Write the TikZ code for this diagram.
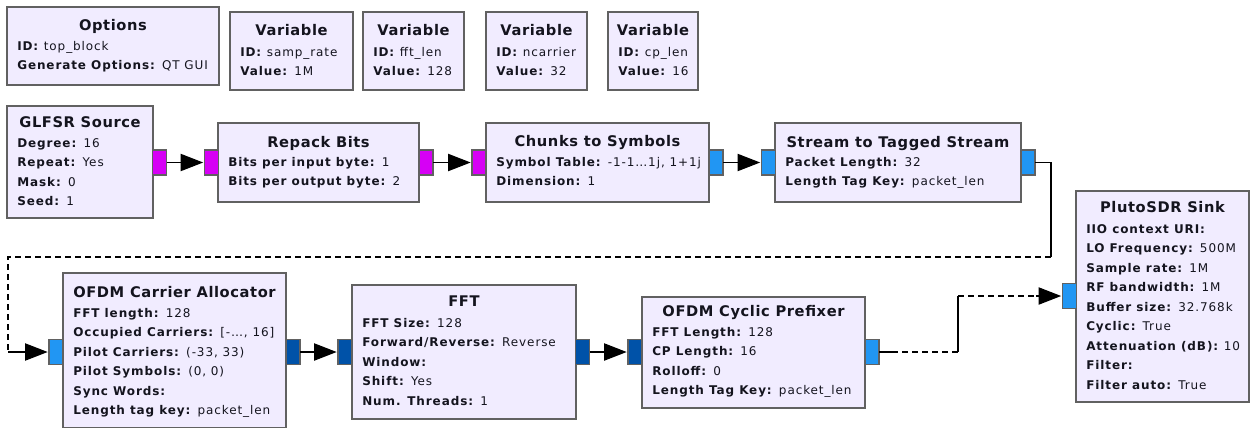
\documentclass[tikz,border=0pt]{standalone}
\usepackage{fontspec}
\setmainfont{DejaVu Sans}
\newfontfamily\ttlfont[LetterSpace=4]{DejaVu Sans}
\newfontfamily\prmfont[LetterSpace=7.5]{DejaVu Sans}
\usetikzlibrary{arrows.meta,calc}

\definecolor{blockfill}{RGB}{241,236,255}
\definecolor{blockedge}{RGB}{97,97,97}
\definecolor{byteport}{RGB}{214,0,245}
\definecolor{cplxport}{RGB}{33,150,243}
\definecolor{vecport}{RGB}{0,82,168}
\definecolor{ink}{RGB}{20,20,30}

% block frame with centred title
\newcommand\grblock[7]{%
  \node[blk, minimum width={(#4-#2)*0.75pt}, minimum height={(#5-#3)*0.75pt}] (#1) at (#2,#3) {};
  \node[ttl] (#1-title) at ({(#2+#4)/2},{#6+5.3}) {#7};
}
% parameter lines, left aligned, one per row
\newcommand\grparams[4]{%
  \foreach \k/\v [count=\i from 0] in {#4} {
    \node[prm] (#1-p\i) at ({#2+10},{#3+4.2+19.5*\i}) {\textbf{\k:} \v};
  }
}

\begin{document}
\begin{tikzpicture}[x=0.75pt,y=-0.75pt,
  blk/.style={draw=blockedge, fill=blockfill, line width=1.1pt, rectangle,
    inner sep=0pt, outer sep=0pt, anchor=north west},
  ttl/.style={font=\ttlfont\bfseries\fontsize{11}{13}\selectfont, text=ink,
    anchor=base, inner sep=0pt},
  prm/.style={font=\prmfont\fontsize{9}{11}\selectfont, text=ink,
    anchor=base west, inner sep=0pt},
  port/.style={draw=blockedge, line width=0.9pt, rectangle, minimum width=10.5pt,
    minimum height=18.75pt, inner sep=0pt, outer sep=0pt},
  wire/.style={draw=black, line width=0.9pt},
  broken/.style={wire, dash pattern=on 4.5pt off 3pt},
  feed/.style={wire, -{Triangle[length=17pt,width=13pt]}, shorten >=1pt}]
\useasboundingbox (0,0) rectangle (1253,429);

% --- variables and options ---
\grblock{opts}{7}{7}{219}{85}{25}{Options}
\grparams{opts}{7}{46}{ID/top\_block, Generate Options/QT GUI}
\grblock{vrate}{230}{12}{353}{90}{30}{Variable}
\grparams{vrate}{230}{52}{ID/samp\_rate, Value/1M}
\grblock{vfft}{363}{12}{464}{90}{30}{Variable}
\grparams{vfft}{363}{52}{ID/fft\_len, Value/128}
\grblock{vncar}{486}{12}{587}{90}{30}{Variable}
\grparams{vncar}{486}{52}{ID/ncarrier, Value/32}
\grblock{vcp}{608}{12}{698}{90}{30}{Variable}
\grparams{vcp}{608}{52}{ID/cp\_len, Value/16}

% --- upper chain ---
\grblock{glfsr}{7}{106}{153}{218}{122}{GLFSR Source}
\grparams{glfsr}{7}{143}{Degree/16, Repeat/Yes, Mask/0, Seed/1}
\grblock{repack}{218}{123}{419}{202}{142}{Repack Bits}
\grparams{repack}{218}{162}{Bits per input byte/1, Bits per output byte/2}
\grblock{chunks}{486}{123}{709}{202}{141}{Chunks to Symbols}
\grparams{chunks}{486}{162}{Symbol Table/{-1-1…1j, 1+1j}, Dimension/1}
\grblock{s2ts}{775}{123}{1021}{202}{142}{Stream to Tagged Stream}
\grparams{s2ts}{775}{162}{Packet Length/32, Length Tag Key/packet\_len}

% --- lower chain ---
\grblock{alloc}{63}{273}{286}{427.5}{292}{OFDM Carrier Allocator}
\grparams{alloc}{63}{313}{FFT length/128, Occupied Carriers/{[-…, 16]},
  Pilot Carriers/{(-33, 33)}, Pilot Symbols/{(0, 0)}, Sync Words/,
  Length tag key/packet\_len}
\grblock{fft}{352}{285}{576}{419}{301}{FFT}
\grparams{fft}{352}{323}{FFT Size/128, {Forward/Reverse}/Reverse, Window/,
  Shift/Yes, Num. Threads/1}
\grblock{cpre}{642}{297}{865}{408}{311}{OFDM Cyclic Prefixer}
\grparams{cpre}{642}{332}{FFT Length/128, CP Length/16, Rolloff/0,
  Length Tag Key/packet\_len}
\grblock{pluto}{1076}{191}{1249}{402}{207}{PlutoSDR Sink}
\grparams{pluto}{1076}{229}{IIO context URI/, LO Frequency/500M,
  Sample rate/1M, RF bandwidth/1M, Buffer size/32.768k, Cyclic/True,
  Attenuation (dB)/10, Filter/, Filter auto/True}

% --- ports ---
\node[port, fill=byteport] (glfsr-out)  at (159.5,162.5) {};
\node[port, fill=byteport] (repack-in)  at (211.5,162.5) {};
\node[port, fill=byteport] (repack-out) at (426,162.5) {};
\node[port, fill=byteport] (chunks-in)  at (479,162.5) {};
\node[port, fill=cplxport] (chunks-out) at (716,162.5) {};
\node[port, fill=cplxport] (s2ts-in)    at (768.5,162.5) {};
\node[port, fill=cplxport] (s2ts-out)   at (1028,162.5) {};
\node[port, fill=cplxport] (alloc-in)   at (56,352) {};
\node[port, fill=vecport]  (alloc-out)  at (293,352) {};
\node[port, fill=vecport]  (fft-in)     at (345,352) {};
\node[port, fill=vecport]  (fft-out)    at (582.5,352) {};
\node[port, fill=vecport]  (cpre-in)    at (635,352) {};
\node[port, fill=cplxport] (cpre-out)   at (872,352) {};
\node[port, fill=cplxport] (pluto-in)   at (1069.5,296) {};

% --- connections ---
\draw[feed] (glfsr-out.east) -- (repack-in.west);
\draw[feed] (repack-out.east) -- (chunks-in.west);
\draw[feed] (chunks-out.east) -- (s2ts-in.west);

\coordinate (r1) at (1051,162.5);
\coordinate (r2) at (1051,257);
\coordinate (r3) at (8,257);
\coordinate (r4) at (8,352);
\draw[wire] (s2ts-out.east) -- (r1) -- (r2);
\draw[broken] (r2) -- (r3) -- (r4);
\draw[feed] (r4) -- (alloc-in.west);

\draw[feed] (alloc-out.east) -- (fft-in.west);
\draw[feed] (fft-out.east) -- (cpre-in.west);

\coordinate (q1) at (892,352);
\coordinate (q2) at (958,352);
\coordinate (q3) at (958,296);
\coordinate (q4) at (1036,296);
\draw[wire] (cpre-out.east) -- (q1);
\draw[broken] (q1) -- (q2);
\draw[wire] (q2) -- (q3);
\draw[broken] (q3) -- (q4);
\draw[feed] (q4) -- (pluto-in.west);
\end{tikzpicture}
\end{document}
